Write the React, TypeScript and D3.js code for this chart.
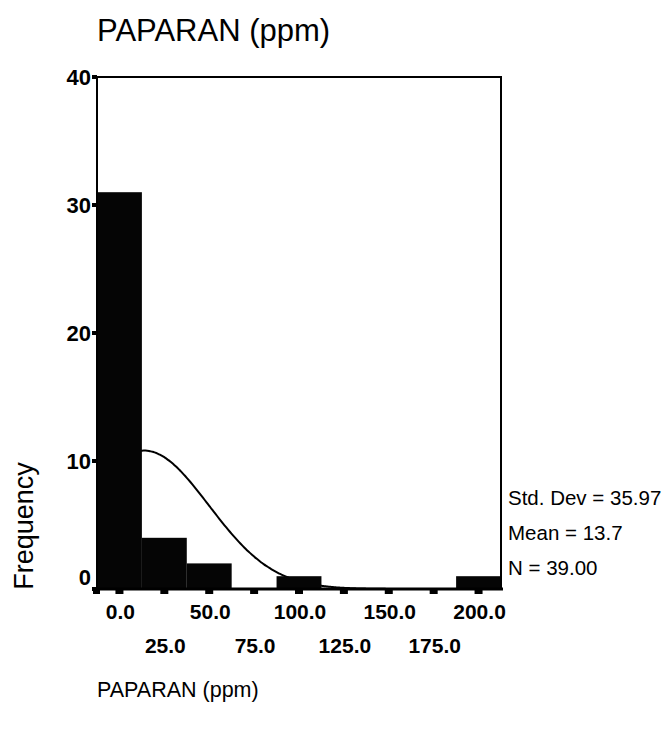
import React, {useEffect, useRef} from 'react';
import * as d3 from 'd3';

// histogram bins (bin width 25), centres and counts
const binCenters = [0, 25, 50, 75, 100, 125, 150, 175, 200];
const counts = [31, 4, 2, 0, 1, 0, 0, 0, 1];
const binWidth = 25;

const yTicks = [0, 10, 20, 30, 40];
const xTicksRow1 = [0, 50, 100, 150, 200];
const xTicksRow2 = [25, 75, 125, 175];

const stdDev = 35.97;
const mean = 13.7;
const n = 39;
const statLines = ['Std. Dev = 35.97', 'Mean = 13.7', 'N = 39.00'];

const font = '"Liberation Sans", Arial, sans-serif';

const App = () => {
  const svgRef = useRef<SVGSVGElement>(null);

  useEffect(() => {
    const svg = d3.select(svgRef.current);
    svg.selectAll('*').remove();

    const left = 97, right = 501, top = 77, bottom = 589;

    const x = d3
      .scaleLinear()
      .domain([-binWidth / 2, 200 + binWidth / 2])
      .range([left, right]);
    const y = d3.scaleLinear().domain([0, 40]).range([bottom, top]);

    // title
    svg
      .append('text')
      .attr('x', 97)
      .attr('y', 41)
      .attr('font-family', font)
      .attr('font-size', 31)
      .text('PAPARAN (ppm)');

    // fitted normal curve (drawn under the bars)
    const pts = d3.range(-12.5, 212.6, 1).map(v => {
      const z = (v - mean) / stdDev;
      return [v, (n * binWidth) / (stdDev * Math.sqrt(2 * Math.PI)) * Math.exp(-0.5 * z * z)];
    });
    svg
      .append('path')
      .datum(pts)
      .attr('fill', 'none')
      .attr('stroke', '#000')
      .attr('stroke-width', 2)
      .attr('d', d3.line<number[]>().x(d => x(d[0])).y(d => y(d[1])).curve(d3.curveMonotoneX));

    // bars
    svg
      .selectAll('.bar')
      .data(binCenters.map((c, i) => ({c, v: counts[i]})).filter(d => d.v > 0))
      .enter()
      .append('rect')
      .attr('class', 'bar')
      .attr('x', d => x(d.c - binWidth / 2))
      .attr('width', d => x(d.c + binWidth / 2) - x(d.c - binWidth / 2))
      .attr('y', d => y(d.v))
      .attr('height', d => y(0) - y(d.v))
      .attr('fill', '#050505');

    // frame
    svg
      .append('rect')
      .attr('x', left)
      .attr('y', top)
      .attr('width', right - left)
      .attr('height', bottom - top)
      .attr('fill', 'none')
      .attr('stroke', '#000')
      .attr('stroke-width', 2);

    // baseline (thick)
    svg
      .append('line')
      .attr('x1', left - 3)
      .attr('x2', right + 2)
      .attr('y1', bottom)
      .attr('y2', bottom)
      .attr('stroke', '#000')
      .attr('stroke-width', 3);

    // y ticks + labels
    yTicks.forEach(t => {
      svg
        .append('rect')
        .attr('x', left - 5)
        .attr('y', y(t) - 2)
        .attr('width', 5)
        .attr('height', 4)
        .attr('fill', '#000');
      svg
        .append('text')
        .attr('x', left - 6)
        .attr('y', t === 0 ? y(t) - 4 : y(t) + 8)
        .attr('text-anchor', 'end')
        .attr('font-family', font)
        .attr('font-weight', 'bold')
        .attr('font-size', 22)
        .text(t);
    });

    // x ticks
    d3.range(0, 201, 25).forEach(t => {
      svg
        .append('rect')
        .attr('x', x(t) - 4)
        .attr('y', bottom)
        .attr('width', 8)
        .attr('height', 5)
        .attr('fill', '#000');
    });
    svg
      .append('rect')
      .attr('x', left - 4)
      .attr('y', bottom)
      .attr('width', 7)
      .attr('height', 5)
      .attr('fill', '#000');

    xTicksRow1.forEach(t => {
      svg
        .append('text')
        .attr('x', x(t) + 1)
        .attr('y', 619)
        .attr('text-anchor', 'middle')
        .attr('font-family', font)
        .attr('font-weight', 'bold')
        .attr('font-size', 21)
        .text(d3.format('.1f')(t));
    });
    xTicksRow2.forEach(t => {
      svg
        .append('text')
        .attr('x', x(t) + 1)
        .attr('y', 653)
        .attr('text-anchor', 'middle')
        .attr('font-family', font)
        .attr('font-weight', 'bold')
        .attr('font-size', 21)
        .text(d3.format('.1f')(t));
    });

    // axis titles
    svg
      .append('text')
      .attr('transform', 'translate(33,526) rotate(-90)')
      .attr('text-anchor', 'middle')
      .attr('font-family', font)
      .attr('font-size', 27)
      .text('Frequency');

    svg
      .append('text')
      .attr('x', 97)
      .attr('y', 697)
      .attr('font-family', font)
      .attr('font-size', 21.5)
      .text('PAPARAN (ppm)');

    // stats
    statLines.forEach((s, i) => {
      svg
        .append('text')
        .attr('x', 508)
        .attr('y', 505 + i * 35)
        .attr('font-family', font)
        .attr('font-size', 20.5)
        .text(s);
    });
  }, []);

  return (
    <svg
      ref={svgRef}
      width={668}
      height={733}
      style={{position: 'absolute', left: 0, top: 0, background: '#fff'}}
    ></svg>
  );
};

export default App;
